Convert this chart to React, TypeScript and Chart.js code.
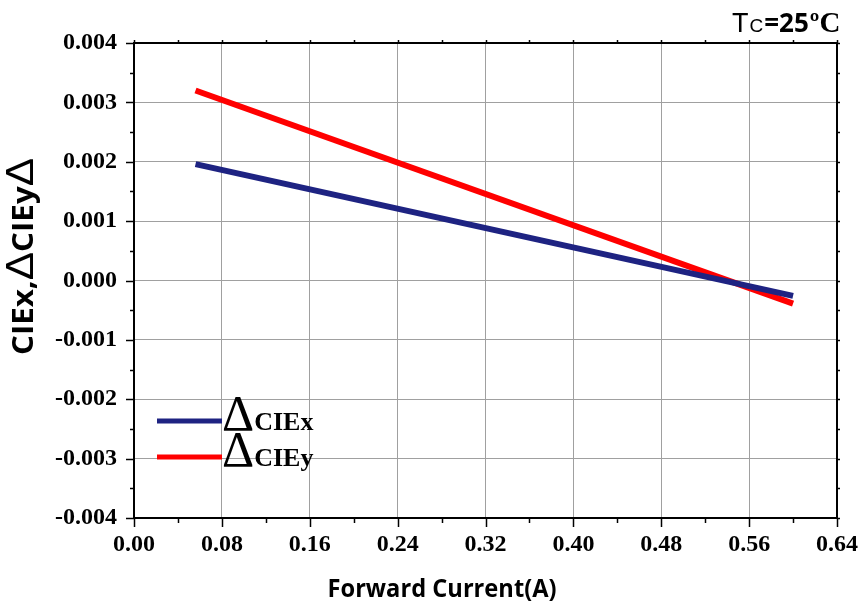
import React, { useEffect, useRef } from 'react';
import { Chart, registerables } from 'chart.js';

Chart.register(...registerables);

// ---- data ----
const currentA = [0.056, 0.6];
const deltaCIEx = [0.00196, -0.00026];
const deltaCIEy = [0.0032, -0.00039];

const seriesNames = ['CIEx', 'CIEy'];
const seriesColors = ['#1e2382', '#ff0000'];

const xMin = 0;
const xMax = 0.64;
const xMinorStep = 0.04;
const yMin = -0.004;
const yMax = 0.004;
const yMinorStep = 0.0005;

const xTitle = 'Forward Current(A)';
const yTitleParts = ['CIEx,', 'Δ', 'CIEy', 'Δ'];

const TICK_FONT = { family: '"Liberation Serif", serif', size: 24, weight: 'bold' as const };

const decorPlugin = {
  id: 'decor',
  afterDraw(chart: any) {
    const { ctx, chartArea: a, scales } = chart;
    const xs = scales.x;
    const ys = scales.y;
    ctx.save();
    ctx.strokeStyle = '#000';
    ctx.lineWidth = 1.5;
    // bottom / top ticks
    xs.ticks.forEach((t: any, i: number) => {
      const px = Math.round(xs.getPixelForValue(t.value)) + 0.5;
      const major = i % 2 === 0;
      ctx.beginPath();
      ctx.moveTo(px, a.bottom);
      ctx.lineTo(px, a.bottom + (major ? 9 : 5));
      ctx.stroke();
      ctx.beginPath();
      ctx.moveTo(px, a.top);
      ctx.lineTo(px, a.top - 3);
      ctx.stroke();
    });
    // left / right ticks
    ys.ticks.forEach((t: any, i: number) => {
      const py = Math.round(ys.getPixelForValue(t.value)) + 0.5;
      const major = i % 2 === 0;
      ctx.beginPath();
      ctx.moveTo(a.left, py);
      ctx.lineTo(a.left - (major ? 8 : 4), py);
      ctx.stroke();
      ctx.beginPath();
      ctx.moveTo(a.right, py);
      ctx.lineTo(a.right + 3, py);
      ctx.stroke();
    });
    // top and right border
    ctx.lineWidth = 2;
    ctx.beginPath();
    ctx.moveTo(a.left, a.top);
    ctx.lineTo(a.right, a.top);
    ctx.lineTo(a.right, a.bottom);
    ctx.stroke();

    ctx.fillStyle = '#000';
    // x title
    ctx.font = 'bold 25px "Open Sans", sans-serif';
    ctx.textBaseline = 'alphabetic';
    ctx.textAlign = 'left';
    const xw = ctx.measureText(xTitle).width;
    const xTarget = 229;
    ctx.save();
    ctx.translate(442 - xTarget / 2, 597);
    ctx.scale(xTarget / xw, 1);
    ctx.fillText(xTitle, 0, 0);
    ctx.restore();

    // y title (rotated)
    const fonts = yTitleParts.map((p) =>
      p === 'Δ' ? '38px "Liberation Sans", sans-serif' : 'bold 28px "Open Sans", sans-serif'
    );
    let total = 0;
    const widths = yTitleParts.map((p, i) => {
      ctx.font = fonts[i];
      const w = ctx.measureText(p).width;
      total += w;
      return w;
    });
    const yTarget = 197;
    ctx.save();
    ctx.translate(33, 355);
    ctx.rotate(-Math.PI / 2);
    ctx.scale(yTarget / total, 1);
    let pos = 0;
    yTitleParts.forEach((p, i) => {
      ctx.font = fonts[i];
      ctx.fillText(p, pos, 0);
      pos += widths[i];
    });
    ctx.restore();

    // legend
    const legendY = [421, 457];
    seriesNames.forEach((name, i) => {
      ctx.strokeStyle = seriesColors[i];
      ctx.lineWidth = 5;
      ctx.beginPath();
      ctx.moveTo(157, legendY[i]);
      ctx.lineTo(222, legendY[i]);
      ctx.stroke();
      ctx.fillStyle = '#000';
      ctx.font = '50px "Liberation Serif", serif';
      ctx.fillText('Δ', 222, legendY[i] + 9);
      const dw = ctx.measureText('Δ').width;
      ctx.font = 'bold 26px "Liberation Serif", serif';
      ctx.fillText(name, 222 + dw, legendY[i] + 9);
    });

    // Tc label
    let tx = 732;
    const tBase = 32;
    const tParts: [string, string][] = [
      ['T', '27px "Liberation Sans", sans-serif'],
      ['C', '19px "Liberation Sans", sans-serif'],
      ['=25', 'bold 26px "Open Sans", sans-serif'],
      ['ºC', 'bold 29px "Liberation Serif", serif'],
    ];
    tParts.forEach(([s, f]) => {
      ctx.font = f;
      ctx.fillText(s, tx, tBase);
      tx += ctx.measureText(s).width + 1;
    });

    ctx.restore();
  },
};

export default function App() {
  const ref = useRef<HTMLCanvasElement>(null);
  useEffect(() => {
    const canvas = ref.current;
    if (!canvas) return;
    const mk = (ys: number[]) => currentA.map((x, i) => ({ x, y: ys[i] }));
    const chart = new Chart(canvas, {
      type: 'line',
      data: {
        datasets: [
          {
            label: seriesNames[0],
            data: mk(deltaCIEx),
            borderColor: seriesColors[0],
            borderWidth: 6,
            pointRadius: 0,
            tension: 0,
            borderCapStyle: 'butt',
          },
          {
            label: seriesNames[1],
            data: mk(deltaCIEy),
            borderColor: seriesColors[1],
            borderWidth: 6,
            pointRadius: 0,
            tension: 0,
            borderCapStyle: 'butt',
          },
        ],
      },
      options: {
        animation: false,
        responsive: true,
        maintainAspectRatio: false,
        layout: { padding: { top: 43, right: 24, left: 0, bottom: 0 } },
        plugins: { legend: { display: false }, tooltip: { enabled: false } },
        scales: {
          x: {
            type: 'linear',
            min: xMin,
            max: xMax,
            afterFit: (s: any) => {
              s.height = 86;
              s.paddingLeft = 0;
              s.paddingRight = 0;
            },
            ticks: {
              stepSize: xMinorStep,
              autoSkip: false,
              maxRotation: 0,
              font: TICK_FONT,
              color: '#000',
              padding: 12,
              callback: (v: any, i: number) => (i % 2 === 0 ? Number(v).toFixed(2) : ''),
            },
            grid: {
              color: (c: any) => (c.index % 2 === 0 ? '#a0a0a0' : 'rgba(0,0,0,0)'),
              lineWidth: 1,
              drawTicks: false,
            },
            border: { display: true, color: '#000', width: 2 },
          },
          y: {
            type: 'linear',
            min: yMin,
            max: yMax,
            afterFit: (s: any) => {
              s.width = 134;
              s.paddingTop = 0;
              s.paddingBottom = 0;
            },
            ticks: {
              stepSize: yMinorStep,
              autoSkip: false,
              font: TICK_FONT,
              color: '#000',
              padding: 17,
              callback: (v: any, i: number) => {
                if (i % 2 !== 0) return '';
                const n = Number(v);
                return Math.abs(n) < 1e-9 ? '0.000' : n.toFixed(3);
              },
            },
            grid: {
              color: (c: any) => (c.index % 2 === 0 ? '#a0a0a0' : 'rgba(0,0,0,0)'),
              lineWidth: 1,
              drawTicks: false,
            },
            border: { display: true, color: '#000', width: 2 },
          },
        },
      },
      plugins: [decorPlugin],
    } as any);
    return () => chart.destroy();
  }, []);
  return (
    <div style={{ position: 'absolute', left: 0, top: 0, width: 861, height: 604, background: '#fff' }}>
      <canvas ref={ref} />
    </div>
  );
}
